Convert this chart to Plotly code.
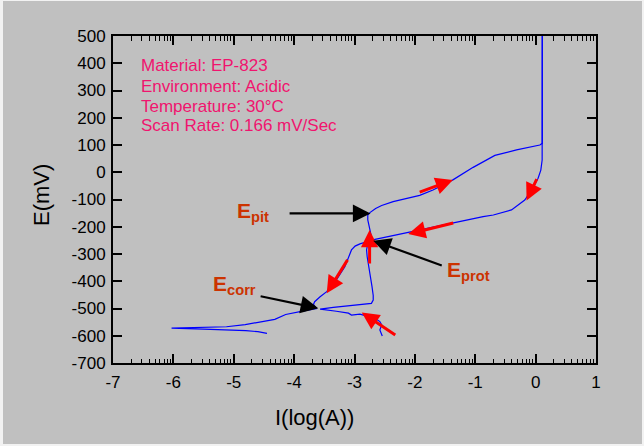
import plotly.graph_objects as go
import numpy as np

# ---- data: forward scan ----
fwd_x = [-2.54, -2.58, -2.55, -2.58, -2.66, -2.80, -2.91, -3.05, -3.10, -3.30, -3.57,
         -3.35, -3.13, -2.90, -2.72, -2.69, -2.69, -2.71, -2.74, -2.76, -2.79, -2.80,
         -2.79, -2.77, -2.72, -2.76, -2.78, -2.78, -2.745, -2.65, -2.55, -2.36, -2.10,
         -1.92, -1.70, -1.59, -1.37, -1.035, -0.675, -0.316, 0.07, 0.11, 0.11, 0.11]
fwd_y = [-601, -579, -560, -548, -536, -527, -521, -524, -517, -510, -502,
         -496, -491, -486, -481, -469, -452, -420, -383, -347, -310, -285,
         -267, -250, -236, -200, -175, -157, -148, -133, -122, -108, -95,
         -85, -65, -53, -28, 18, 62, 82, 100, 106, 300, 500]

# ---- data: reverse scan ----
rev_x = [0.11, 0.11, 0.108, 0.086, 0.041, -0.068, -0.18, -0.40, -0.70, -0.87, -1.26,
         -1.37, -1.86, -2.30, -2.66, -2.91, -2.99, -3.05, -3.10, -3.16, -3.30, -3.46,
         -3.57, -3.66, -3.68, -3.63, -3.84, -3.96, -4.14, -4.32, -4.62, -4.81, -5.12,
         -6.03, -5.5, -5.1, -4.8, -4.6, -4.45]
rev_y = [500, 100, 45, 8, -22, -65, -102, -138, -157, -163, -181,
         -185, -209, -227, -246, -263, -271, -285, -316, -347, -395, -438,
         -457, -475, -485, -500, -509, -515, -522, -540, -552, -559, -567,
         -572, -576, -578, -581, -585, -591]

# ---- red direction arrows (tail -> head) ----
red_tail_x = [-2.30, -2.75, -3.10, -1.945, 0.03, -1.34]
red_tail_y = [-601, -340, -316, -75, -20, -185]
red_head_x = [-2.88, -2.75, -3.46, -1.37, -0.15, -2.11]
red_head_y = [-515, -212, -444, -28, -104, -227]

# ---- black label arrows ----
lbl_names = ["pit", "prot", "corr"]
lbl_tail_x = [-4.10, -1.53, -4.58]
lbl_tail_y = [-151, -344, -454]
lbl_head_x = [-2.735, -2.69, -3.60]
lbl_head_y = [-151, -251, -499]
lbl_text_x = [-4.98, -1.50, -5.38]
lbl_text_y = [-146, -362, -412]

info_lines = ["Material: EP-823", "Environment: Acidic",
              "Temperature: 30°C", "Scan Rate: 0.166 mV/Sec"]
info_y = [390, 316.5, 243, 170]
info_x = -6.57

x_ticks = list(range(-7, 2))
y_ticks = list(range(-700, 501, 100))
minor_x = [n + np.log10(k) for n in range(-7, 1) for k in range(2, 10)]

FONT = "Liberation Sans, Arial, sans-serif"
GRAY = "#C0C0C0"

fig = go.Figure()
fig.add_trace(go.Scatter(x=fwd_x, y=fwd_y, mode="lines",
                         line=dict(color="#0000FF", width=1.2), showlegend=False))
fig.add_trace(go.Scatter(x=rev_x, y=rev_y, mode="lines",
                         line=dict(color="#0000FF", width=1.2), showlegend=False))

annotations = []
for tx, ty, hx, hy in zip(red_tail_x, red_tail_y, red_head_x, red_head_y):
    annotations.append(dict(x=hx, y=hy, ax=tx, ay=ty, xref="x", yref="y",
                            axref="x", ayref="y", text="", showarrow=True,
                            arrowhead=2, arrowsize=1.15, arrowwidth=3,
                            arrowcolor="#FF0000"))
for name, tx, ty, hx, hy, lx, ly in zip(lbl_names, lbl_tail_x, lbl_tail_y,
                                        lbl_head_x, lbl_head_y, lbl_text_x, lbl_text_y):
    annotations.append(dict(x=hx, y=hy, ax=tx, ay=ty, xref="x", yref="y",
                            axref="x", ayref="y", text="", showarrow=True,
                            arrowhead=2, arrowsize=1.6, arrowwidth=2.2,
                            arrowcolor="#000000"))
    annotations.append(dict(x=lx, y=ly, xref="x", yref="y", showarrow=False,
                            xanchor="left", yanchor="middle",
                            text="<b>E<sub>" + name + "</sub></b>",
                            font=dict(family=FONT, size=21, color="#CC3300")))
for t, yy in zip(info_lines, info_y):
    annotations.append(dict(x=info_x, y=yy, xref="x", yref="y", showarrow=False,
                            xanchor="left", yanchor="middle", text=t,
                            font=dict(family=FONT, size=17, color="#F0146E")))
# axis titles
annotations.append(dict(x=-3.656, y=-0.168, xref="x", yref="paper", showarrow=False,
                        xanchor="center", yanchor="middle", text="I(log(A))",
                        font=dict(family=FONT, size=22, color="black")))
annotations.append(dict(x=-0.149, y=-83.5, xref="paper", yref="y", showarrow=False,
                        xanchor="center", yanchor="middle", text="E(mV)", textangle=-90,
                        font=dict(family=FONT, size=22, color="black")))

fig.update_layout(
    width=644, height=446, autosize=False,
    margin=dict(l=113, r=48, t=36, b=83),
    paper_bgcolor="#F2F2F2", plot_bgcolor=GRAY,
    annotations=annotations,
    shapes=[dict(type="rect", xref="paper", yref="paper", layer="below",
                 x0=(3 - 113) / 483, x1=(642 - 113) / 483,
                 y0=(363 - 444) / 327, y1=(363 - 1) / 327,
                 fillcolor=GRAY, line=dict(width=0))],
    font=dict(family=FONT, size=17, color="black"),
)
fig.update_xaxes(range=[-7, 1], tickmode="array", tickvals=x_ticks,
                 ticktext=[str(v) for v in x_ticks],
                 showgrid=False, zeroline=False, showline=True, linecolor="black",
                 linewidth=2, mirror="allticks", ticks="inside", ticklen=9,
                 tickwidth=1.5, tickcolor="black", ticklabelstandoff=3,
                 tickfont=dict(family=FONT, size=17, color="black"),
                 minor=dict(tickmode="array", tickvals=minor_x, ticks="inside",
                            ticklen=4.5, tickwidth=1, tickcolor="black", showgrid=False))
fig.update_yaxes(range=[-700, 500], tickmode="array", tickvals=y_ticks,
                 ticktext=[str(v) for v in y_ticks],
                 showgrid=False, zeroline=False, showline=True, linecolor="black",
                 linewidth=2, mirror="allticks", ticks="inside", ticklen=9,
                 tickwidth=1.5, tickcolor="black", ticklabelstandoff=2,
                 tickfont=dict(family=FONT, size=17, color="black"))

fig.write_html("out.html", config={"displayModeBar": False},
               post_script="document.body.style.margin='0';document.body.style.overflow='hidden';")
